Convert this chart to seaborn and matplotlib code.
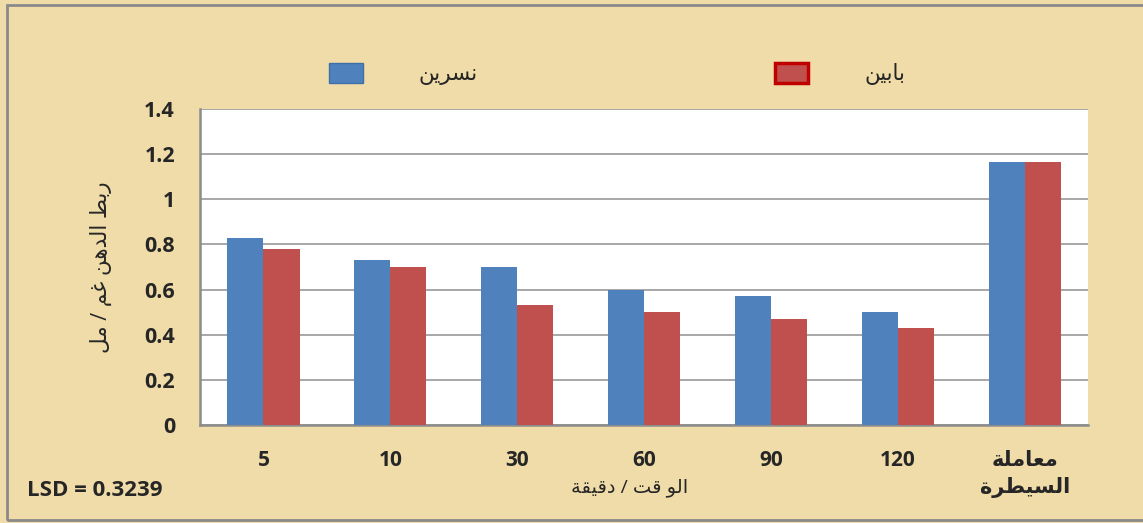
import matplotlib
matplotlib.use("Agg")
import matplotlib.pyplot as plt
from matplotlib.patches import Patch, Rectangle
from matplotlib.ticker import FixedLocator
import seaborn as sns
import pandas as pd

# data
categories = ["5", "10", "30", "60", "90", "120", "معاملة\nالسيطرة"]
series_names = ["نسرين", "بابين"]
nasreen = [0.83, 0.73, 0.70, 0.60, 0.57, 0.50, 1.165]
babin = [0.78, 0.70, 0.53, 0.50, 0.47, 0.43, 1.165]
y_ticks = [0, 0.2, 0.4, 0.6, 0.8, 1, 1.2, 1.4]
y_label = "ربط الدهن غم / مل"
x_label = "الو قت / دقيقة"
lsd_text = "LSD = 0.3239"

# matplotlib does no arabic shaping, so pick presentation forms by hand
# (isolated, final, initial, medial); None = letter never joins to the next one
FORMS = {
    "ا": ("\uFE8D", "\uFE8E", None, None),
    "ب": ("\uFE8F", "\uFE90", "\uFE91", "\uFE92"),
    "ة": ("\uFE93", "\uFE94", None, None),
    "ت": ("\uFE95", "\uFE96", "\uFE97", "\uFE98"),
    "د": ("\uFEA9", "\uFEAA", None, None),
    "ر": ("\uFEAD", "\uFEAE", None, None),
    "س": ("\uFEB1", "\uFEB2", "\uFEB3", "\uFEB4"),
    "ط": ("\uFEC1", "\uFEC2", "\uFEC3", "\uFEC4"),
    "ع": ("\uFEC9", "\uFECA", "\uFECB", "\uFECC"),
    "غ": ("\uFECD", "\uFECE", "\uFECF", "\uFED0"),
    "ق": ("\uFED5", "\uFED6", "\uFED7", "\uFED8"),
    "ل": ("\uFEDD", "\uFEDE", "\uFEDF", "\uFEE0"),
    "م": ("\uFEE1", "\uFEE2", "\uFEE3", "\uFEE4"),
    "ن": ("\uFEE5", "\uFEE6", "\uFEE7", "\uFEE8"),
    "ه": ("\uFEE9", "\uFEEA", "\uFEEB", "\uFEEC"),
    "و": ("\uFEED", "\uFEEE", None, None),
    "ي": ("\uFEF1", "\uFEF2", "\uFEF3", "\uFEF4"),
}


def shape_line(text):
    if not any(ch in FORMS for ch in text):
        return text  # plain numbers stay as they are
    out = []
    for i, ch in enumerate(text):
        if ch not in FORMS:
            out.append(ch)
            continue
        prev = text[i - 1] if i > 0 else ""
        nxt = text[i + 1] if i + 1 < len(text) else ""
        iso, fin, ini, med = FORMS[ch]
        j_prev = prev in FORMS and FORMS[prev][2] is not None
        j_next = nxt in FORMS and ini is not None
        if j_prev and j_next:
            out.append(med)
        elif j_prev:
            out.append(fin)
        elif j_next:
            out.append(ini)
        else:
            out.append(iso)
    return "".join(reversed(out))


def ar(text):
    return "\n".join(shape_line(line) for line in text.split("\n"))


df = pd.DataFrame({
    "cat": categories * 2,
    "series": [series_names[0]] * len(categories) + [series_names[1]] * len(categories),
    "value": nasreen + babin,
})

sns.set_style("white")
plt.rcParams["font.family"] = ["Open Sans", "DejaVu Sans"]

bg = "#F0DCA9"
blue = "#4F81BD"
red = "#C0504D"
grey = "#8C8C8C"

fig = plt.figure(figsize=(11.43, 5.23), dpi=100, facecolor=bg)
ax = fig.add_axes([0.175, 0.1874, 0.777, 0.6042])
ax.set_facecolor("white")

sns.barplot(data=df, x="cat", y="value", hue="series", palette=[blue, red],
            width=0.57, saturation=1, linewidth=0, legend=False, ax=ax, zorder=3)

ax.set_ylim(0, 1.4)
ax.set_xlim(-0.5, len(categories) - 0.5)
ax.set_yticks(y_ticks)
ax.set_yticklabels([f"{v:g}" for v in y_ticks], fontsize=15.5, fontweight="bold")
ax.set_xticks(range(len(categories)))
ax.set_xticklabels([ar(c) for c in categories], fontsize=15, fontweight="bold",
                   linespacing=1.35)
ax.xaxis.set_minor_locator(FixedLocator([i - 0.5 for i in range(len(categories) + 1)]))
ax.tick_params(axis="x", which="major", length=0, pad=18)
ax.tick_params(axis="x", which="minor", length=7, width=1.5, color=grey)
ax.tick_params(axis="y", length=7, width=1.5, color=grey, pad=11)
ax.set_xlabel("")
ax.set_ylabel("")

ax.yaxis.grid(True, color="#A0A0A0", linewidth=1.3, zorder=0)
ax.set_axisbelow(True)
for side in ["top", "right"]:
    ax.spines[side].set_visible(False)
for side in ["left", "bottom"]:
    ax.spines[side].set_color(grey)
    ax.spines[side].set_linewidth(1.8)

fig.text(0.551, 0.067, ar(x_label), fontsize=14, ha="center", va="center")
fig.text(0.088, 0.49, ar(y_label), fontsize=15.5, rotation=90, ha="center", va="center")
fig.text(0.024, 0.063, lsd_text, fontsize=16, fontweight="bold", ha="left", va="center")

handles = [Patch(facecolor=blue, edgecolor="#3F6FA8", linewidth=1),
           Patch(facecolor=red, edgecolor="#C00000", linewidth=2.5)]
fig.legend(handles, [ar(s) for s in series_names], loc="center",
           bbox_to_anchor=(0.54, 0.858), ncol=2, frameon=False, fontsize=15.5,
           handlelength=1.55, handleheight=1.05, handletextpad=2.6,
           columnspacing=13.8)

# thin grey frame around the whole picture
fig.patches.append(Rectangle((0.006, 0.006), 1.2, 0.985, transform=fig.transFigure,
                             fill=False, edgecolor="#8A8A8A", linewidth=2))

fig.savefig("out.png", dpi=100, facecolor=bg)
